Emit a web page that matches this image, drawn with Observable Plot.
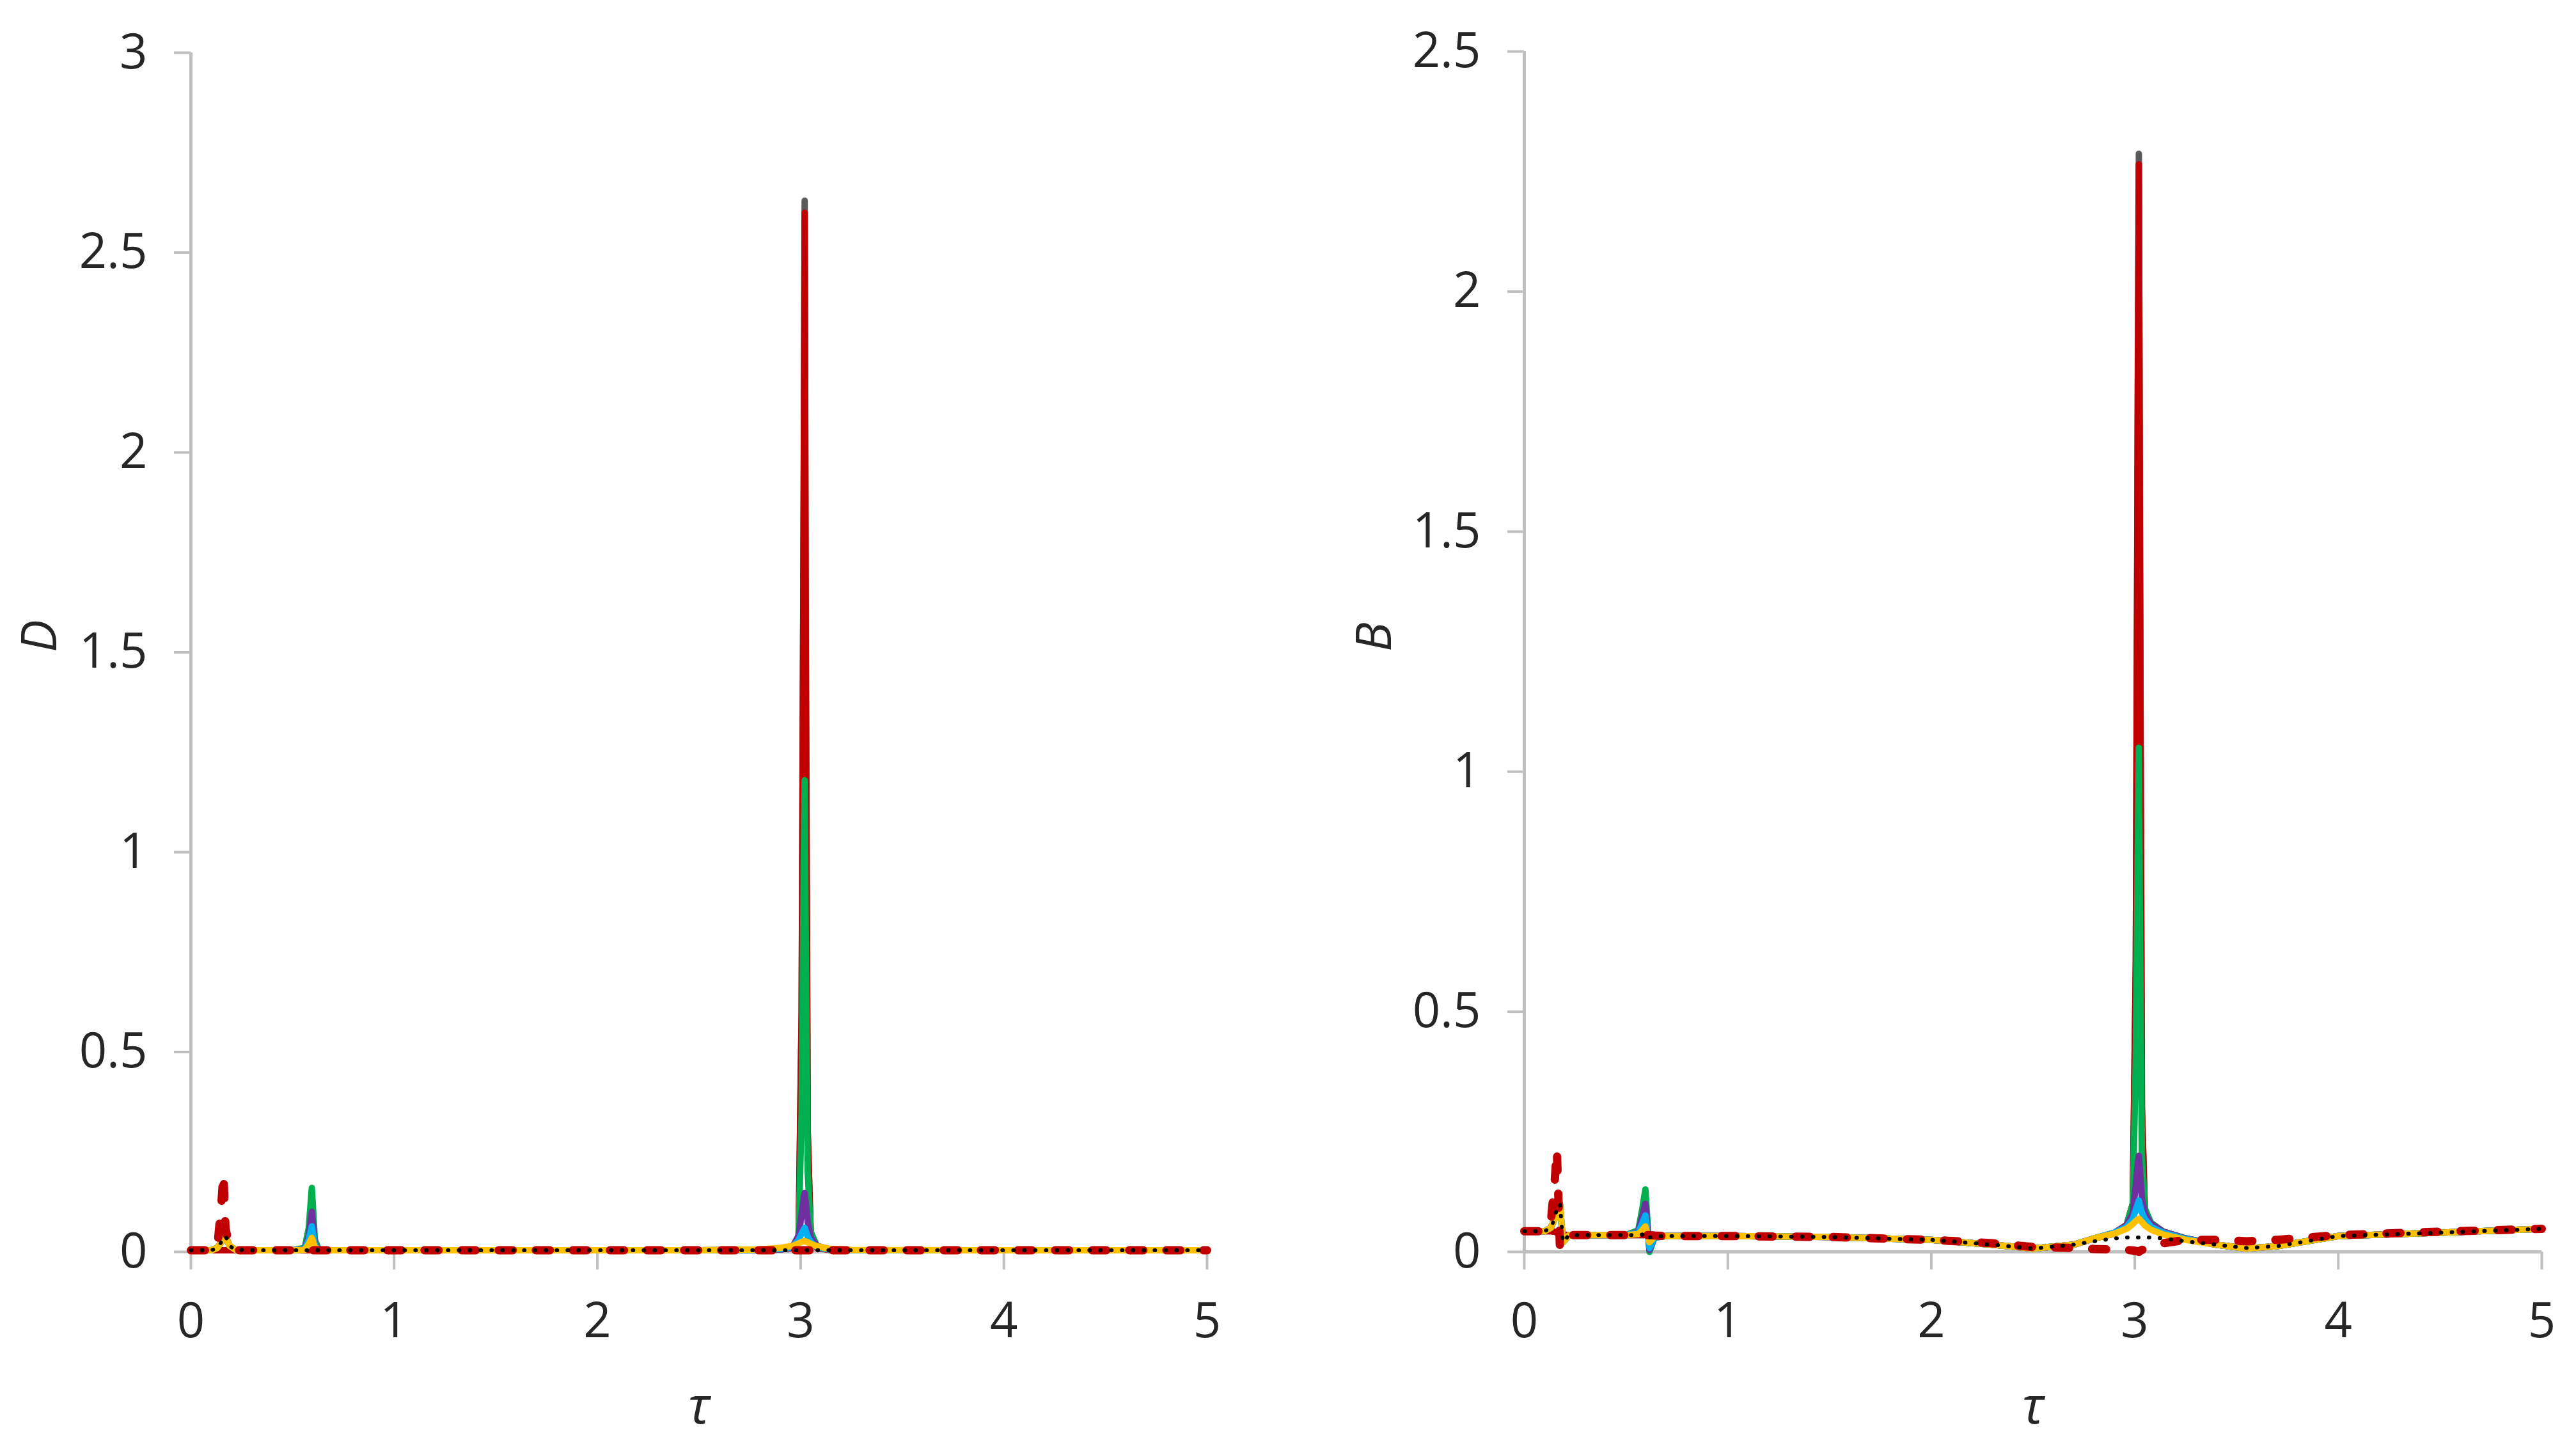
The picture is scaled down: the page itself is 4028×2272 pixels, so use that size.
<!DOCTYPE html>
<html>
<head>
<meta charset="utf-8">
<script src="https://cdn.jsdelivr.net/npm/d3@7"></script>
<script src="https://cdn.jsdelivr.net/npm/@observablehq/plot@0.6"></script>
<style>
html, body { margin: 0; padding: 0; background: #fff; }
#wrap { position: relative; width: 4028px; height: 2272px; background: #fff; }
#left { position: absolute; left: 0; top: 0; }
#right { position: absolute; left: 2014px; top: 0; }
</style>
</head>
<body>
<div id="wrap"><div id="left"></div><div id="right"></div></div>
<script>
// ---------- Left panel: D vs tau ----------
const tauD = [0, 0.1, 0.13, 0.15, 0.16, 0.17, 0.19, 0.22,
  0.3, 0.5, 0.56, 0.58, 0.595, 0.61, 0.63, 0.7,
  1, 1.5, 2, 2.5, 2.8, 2.9,
  2.96, 2.99, 3.005, 3.015, 3.02, 3.025, 3.035, 3.05,
  3.08, 3.14, 3.25, 4, 4.5, 5];
const D_grey = [0.004, 0.004, 0.004, 0.004, 0.004, 0.004, 0.004, 0.004,
  0.004, 0.004, 0.004, 0.004, 0.004, 0.004, 0.004, 0.004,
  0.004, 0.004, 0.004, 0.004, 0.005, 0.006,
  0.01, 0.03, 0.6, 1.9, 2.63, 1.6, 0.3, 0.04,
  0.01, 0.005, 0.004, 0.004, 0.004, 0.004];
const D_red = [0.004, 0.004, 0.004, 0.004, 0.004, 0.004, 0.004, 0.004,
  0.004, 0.004, 0.004, 0.004, 0.004, 0.004, 0.004, 0.004,
  0.004, 0.004, 0.004, 0.004, 0.005, 0.006,
  0.01, 0.03, 0.6, 1.85, 2.60, 1.55, 0.3, 0.04,
  0.01, 0.005, 0.004, 0.004, 0.004, 0.004];
const D_green = [0.004, 0.004, 0.01, 0.025, 0.035, 0.04, 0.015, 0.005,
  0.004, 0.004, 0.01, 0.06, 0.16, 0.03, 0.005, 0.004,
  0.004, 0.004, 0.004, 0.004, 0.005, 0.006,
  0.012, 0.04, 0.35, 0.95, 1.18, 0.8, 0.2, 0.05,
  0.015, 0.006, 0.004, 0.004, 0.004, 0.004];
const D_purple = [0.004, 0.004, 0.01, 0.025, 0.035, 0.04, 0.015, 0.005,
  0.004, 0.004, 0.008, 0.04, 0.10, 0.02, 0.005, 0.004,
  0.004, 0.004, 0.004, 0.004, 0.005, 0.006,
  0.012, 0.04, 0.095, 0.135, 0.147, 0.125, 0.075, 0.035,
  0.015, 0.007, 0.004, 0.004, 0.004, 0.004];
const D_blue = [0.004, 0.004, 0.01, 0.025, 0.035, 0.04, 0.015, 0.005,
  0.004, 0.004, 0.006, 0.03, 0.064, 0.015, 0.005, 0.004,
  0.004, 0.004, 0.004, 0.004, 0.005, 0.007,
  0.012, 0.03, 0.046, 0.056, 0.06, 0.053, 0.038, 0.025,
  0.012, 0.006, 0.004, 0.004, 0.004, 0.004];
const D_yellow = [0.004, 0.004, 0.01, 0.025, 0.035, 0.04, 0.015, 0.005,
  0.004, 0.004, 0.005, 0.02, 0.035, 0.012, 0.005, 0.004,
  0.004, 0.004, 0.004, 0.004, 0.006, 0.01,
  0.015, 0.021, 0.025, 0.026, 0.027, 0.026, 0.024, 0.02,
  0.014, 0.008, 0.005, 0.004, 0.004, 0.004];
const D_dashed = [0.004, 0.004, 0.01, 0.12, 0.195, 0.06, 0.01, 0.004,
  0.004, 0.004, 0.004, 0.004, 0.004, 0.004, 0.004, 0.004,
  0.004, 0.004, 0.004, 0.004, 0.004, 0.004,
  0.004, 0.004, 0.004, 0.004, 0.004, 0.004, 0.004, 0.004,
  0.004, 0.004, 0.004, 0.004, 0.004, 0.004];
const D_dotted = [0.004, 0.004, 0.01, 0.025, 0.035, 0.04, 0.015, 0.005,
  0.004, 0.004, 0.004, 0.004, 0.004, 0.004, 0.004, 0.004,
  0.004, 0.004, 0.004, 0.004, 0.004, 0.004,
  0.004, 0.004, 0.004, 0.004, 0.004, 0.004, 0.004, 0.004,
  0.004, 0.004, 0.004, 0.004, 0.004, 0.004];

// ---------- Right panel: B vs tau ----------
const tauB = [0, 0.1, 0.13, 0.15, 0.16, 0.175, 0.19, 0.22,
  0.3, 0.5, 0.56, 0.58, 0.595, 0.615, 0.64, 0.7,
  1, 1.5, 2, 2.3, 2.5, 2.7, 2.8, 2.9,
  2.96, 2.99, 3.005, 3.015, 3.02, 3.025, 3.035, 3.05,
  3.08, 3.14, 3.25, 3.4, 3.55, 3.7, 4, 4.5, 5];
const B_grey = [0.043, 0.043, 0.043, 0.042, 0.04, 0.038, 0.036, 0.035,
  0.035, 0.035, 0.035, 0.035, 0.035, 0.034, 0.033, 0.033,
  0.033, 0.031, 0.025, 0.015, 0.007, 0.015, 0.028, 0.038,
  0.056, 0.1, 0.6, 1.85, 2.287, 1.55, 0.3, 0.08,
  0.06, 0.042, 0.028, 0.015, 0.007, 0.012, 0.033, 0.04, 0.048];
const B_red = [0.043, 0.043, 0.043, 0.042, 0.04, 0.038, 0.036, 0.035,
  0.035, 0.035, 0.035, 0.035, 0.035, 0.034, 0.033, 0.033,
  0.033, 0.031, 0.025, 0.015, 0.007, 0.015, 0.028, 0.038,
  0.056, 0.1, 0.6, 1.8, 2.265, 1.5, 0.3, 0.08,
  0.06, 0.042, 0.028, 0.015, 0.007, 0.012, 0.033, 0.04, 0.048];
const B_green = [0.043, 0.043, 0.05, 0.07, 0.09, 0.1, 0.02, 0.035,
  0.035, 0.035, 0.045, 0.09, 0.13, 0.0, 0.03, 0.033,
  0.033, 0.031, 0.025, 0.015, 0.007, 0.015, 0.028, 0.04,
  0.056, 0.1, 0.4, 0.85, 1.05, 0.7, 0.2, 0.09,
  0.06, 0.042, 0.028, 0.015, 0.007, 0.012, 0.033, 0.04, 0.048];
const B_purple = [0.043, 0.043, 0.05, 0.07, 0.09, 0.1, 0.02, 0.035,
  0.035, 0.035, 0.042, 0.075, 0.10, 0.004, 0.03, 0.033,
  0.033, 0.031, 0.025, 0.015, 0.007, 0.015, 0.028, 0.04,
  0.056, 0.08, 0.14, 0.185, 0.2, 0.17, 0.11, 0.08,
  0.058, 0.042, 0.028, 0.015, 0.007, 0.012, 0.033, 0.04, 0.048];
const B_blue = [0.043, 0.043, 0.05, 0.07, 0.09, 0.1, 0.02, 0.035,
  0.035, 0.035, 0.04, 0.06, 0.076, 0.008, 0.03, 0.033,
  0.033, 0.031, 0.025, 0.015, 0.007, 0.015, 0.028, 0.04,
  0.052, 0.068, 0.088, 0.1, 0.107, 0.098, 0.082, 0.068,
  0.052, 0.04, 0.027, 0.015, 0.007, 0.012, 0.033, 0.04, 0.048];
const B_yellow = [0.043, 0.043, 0.05, 0.07, 0.09, 0.1, 0.02, 0.035,
  0.035, 0.035, 0.037, 0.045, 0.053, 0.02, 0.032, 0.033,
  0.033, 0.031, 0.025, 0.015, 0.007, 0.015, 0.028, 0.038,
  0.048, 0.058, 0.064, 0.068, 0.069, 0.067, 0.062, 0.055,
  0.046, 0.036, 0.025, 0.015, 0.007, 0.012, 0.033, 0.04, 0.048];
const B_dashed = [0.043, 0.043, 0.06, 0.15, 0.213, 0.01, 0.03, 0.035,
  0.035, 0.035, 0.035, 0.035, 0.035, 0.035, 0.034, 0.033,
  0.033, 0.031, 0.025, 0.018, 0.01, 0.008, 0.006, 0.005,
  0.004, 0.003, 0.002, 0.001, 0.0, 0.002, 0.004, 0.006,
  0.01, 0.018, 0.025, 0.025, 0.022, 0.025, 0.035, 0.042, 0.048];
const B_dotted = [0.043, 0.043, 0.05, 0.07, 0.09, 0.1, 0.02, 0.035,
  0.035, 0.035, 0.035, 0.036, 0.04, 0.03, 0.032, 0.033,
  0.033, 0.031, 0.025, 0.015, 0.007, 0.015, 0.022, 0.028,
  0.03, 0.03, 0.03, 0.03, 0.03, 0.03, 0.03, 0.03,
  0.03, 0.028, 0.022, 0.015, 0.008, 0.012, 0.033, 0.04, 0.048];

const xTicks = [0, 1, 2, 3, 4, 5];
const yTicksD = [0, 0.5, 1, 1.5, 2, 2.5, 3];
const yTicksB = [0, 0.5, 1, 1.5, 2, 2.5];

// series styles (drawing order, bottom to top)
const styles = [
  {key: "grey",   color: "#5a5a5a", width: 10, dash: null},
  {key: "red",    color: "#c00000", width: 10, dash: null},
  {key: "green",  color: "#00b050", width: 10, dash: null},
  {key: "purple", color: "#7030a0", width: 10, dash: null},
  {key: "blue",   color: "#00b0f0", width: 10, dash: null},
  {key: "yellow", color: "#ffc000", width: 10, dash: null},
  {key: "dashed", color: "#c00000", width: 13, dash: "22 36"},
  {key: "dotted", color: "#000000", width: 6, dash: "1 16"}
];

const seriesD = {grey: D_grey, red: D_red, green: D_green, purple: D_purple, blue: D_blue, yellow: D_yellow, dashed: D_dashed, dotted: D_dotted};
const seriesB = {grey: B_grey, red: B_red, green: B_green, purple: B_purple, blue: B_blue, yellow: B_yellow, dashed: B_dashed, dotted: B_dotted};

function rows(tau, vals) { return tau.map((t, i) => ({tau: t, v: vals[i]})); }

const AXIS = "#bfbfbf";
const TXT = "#262626";
const FS = 76;

function panel({tau, series, yMax, yTicks, yTitle, marginLeft, marginRight, marginTop, titleDx}) {
  const marks = [
    Plot.ruleX([0], {stroke: AXIS, strokeWidth: 5}),
    Plot.ruleY([0], {stroke: AXIS, strokeWidth: 5}),
    Plot.axisY({ticks: yTicks, tickFormat: d => String(d), tickSize: 26, tickPadding: 42,
      stroke: AXIS, strokeWidth: 4, strokeOpacity: 1, fill: TXT, fontSize: FS, label: null}),
    Plot.axisX({ticks: xTicks, tickFormat: d => String(d), tickSize: 28, tickPadding: 52,
      stroke: AXIS, strokeWidth: 4, strokeOpacity: 1, fill: TXT, fontSize: FS, label: null})
  ];
  for (const s of styles) {
    marks.push(Plot.line(rows(tau, series[s.key]), {
      x: "tau", y: "v", stroke: s.color, strokeWidth: s.width,
      strokeDasharray: s.dash, strokeLinecap: "round", strokeLinejoin: "round"
    }));
  }
  marks.push(Plot.text(["τ"], {frameAnchor: "bottom", dy: 268, fontStyle: "italic", fontSize: FS + 4, fill: TXT}));
  marks.push(Plot.text([yTitle], {frameAnchor: "left", dx: titleDx, rotate: -90, fontStyle: "italic", fontSize: FS, fill: TXT}));
  return Plot.plot({
    width: 2014, height: 2272,
    marginLeft, marginRight, marginTop, marginBottom: 315,
    x: {domain: [0, 5]},
    y: {domain: [0, yMax]},
    style: {fontFamily: "'Open Sans', 'Noto Sans', sans-serif", background: "white", overflow: "visible"},
    marks
  });
}

document.getElementById("left").appendChild(panel({
  tau: tauD, series: seriesD, yMax: 3, yTicks: yTicksD, yTitle: "D",
  marginLeft: 298, marginRight: 127, marginTop: 82, titleDx: -235
}));
document.getElementById("right").appendChild(panel({
  tau: tauB, series: seriesB, yMax: 2.5, yTicks: yTicksB, yTitle: "B",
  marginLeft: 369, marginRight: 54, marginTop: 80, titleDx: -233
}));
</script>
</body>
</html>
